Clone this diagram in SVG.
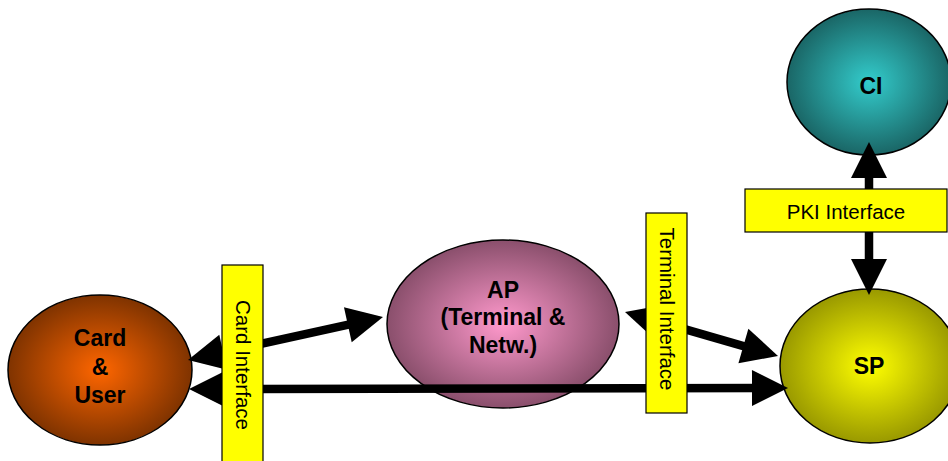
<svg xmlns="http://www.w3.org/2000/svg" width="948" height="461" viewBox="0 0 948 461">
<style>
.node{stroke:#000;stroke-width:1.5}
.lbl{font-family:"Liberation Sans",Arial,sans-serif;font-weight:bold;font-size:23px;fill:#000;text-anchor:middle}
.box{fill:#ffff00;stroke:#000;stroke-width:1.2}
.itxt{font-family:"Liberation Sans",Arial,sans-serif;font-size:20.5px;fill:#000;text-anchor:middle;dominant-baseline:central}
.conn{stroke:#000;stroke-width:8.5;fill:none;marker-start:url(#ah);marker-end:url(#ah)}
</style>
<defs>
<radialGradient id="gCard"><stop offset="0" stop-color="#ff6600"/><stop offset="1" stop-color="#7f3300"/></radialGradient>
<radialGradient id="gAP"><stop offset="0" stop-color="#ff99cc"/><stop offset="1" stop-color="#8a4f6c"/></radialGradient>
<radialGradient id="gCI"><stop offset="0" stop-color="#33cccc"/><stop offset="1" stop-color="#1a6666"/></radialGradient>
<radialGradient id="gSP"><stop offset="0" stop-color="#ffff00"/><stop offset="1" stop-color="#999900"/></radialGradient>
<marker id="ah" markerUnits="userSpaceOnUse" markerWidth="36" markerHeight="36" refX="10" refY="18" orient="auto-start-reverse" overflow="visible">
<path d="M0,0 L36,18 L0,36 z" fill="#000"/>
</marker>
</defs>
<g id="card">
<ellipse class="node" cx="100" cy="370" rx="92" ry="75" fill="url(#gCard)"/>
<text class="lbl" x="100" y="346">Card</text>
<text class="lbl" x="100" y="375">&amp;</text>
<text class="lbl" x="100" y="403">User</text>
</g>
<g id="ap">
<ellipse class="node" cx="503" cy="324" rx="116" ry="84" fill="url(#gAP)"/>
<text class="lbl" x="503" y="298">AP</text>
<text class="lbl" x="503" y="325">(Terminal &amp;</text>
<text class="lbl" x="503" y="353">Netw.)</text>
</g>
<g id="ci">
<ellipse class="node" cx="869" cy="82" rx="82" ry="73" fill="url(#gCI)"/>
<text class="lbl" x="871" y="94">CI</text>
</g>
<g id="sp">
<ellipse class="node" cx="870" cy="366" rx="90" ry="77" fill="url(#gSP)"/>
<text class="lbl" x="869" y="374">SP</text>
</g>
<g id="connectors">
<line class="conn" x1="213.4" y1="354.4" x2="357.6" y2="322.6"/>
<line class="conn" x1="215" y1="389" x2="762" y2="388"/>
<line class="conn" x1="650" y1="319.2" x2="753" y2="348.8"/>
<line class="conn" x1="869" y1="168" x2="869" y2="269"/>
</g>
<g id="card-interface">
<rect class="box" x="222" y="265" width="41" height="200"/>
<text class="itxt" transform="translate(243,365) rotate(90)">Card Interface</text>
</g>
<g id="terminal-interface">
<rect class="box" x="646" y="213" width="41" height="200"/>
<text class="itxt" transform="translate(667,309) rotate(90)">Terminal Interface</text>
</g>
<g id="pki-interface">
<rect class="box" x="745" y="189" width="202" height="43"/>
<text class="itxt" x="846" y="211">PKI Interface</text>
</g>
</svg>
